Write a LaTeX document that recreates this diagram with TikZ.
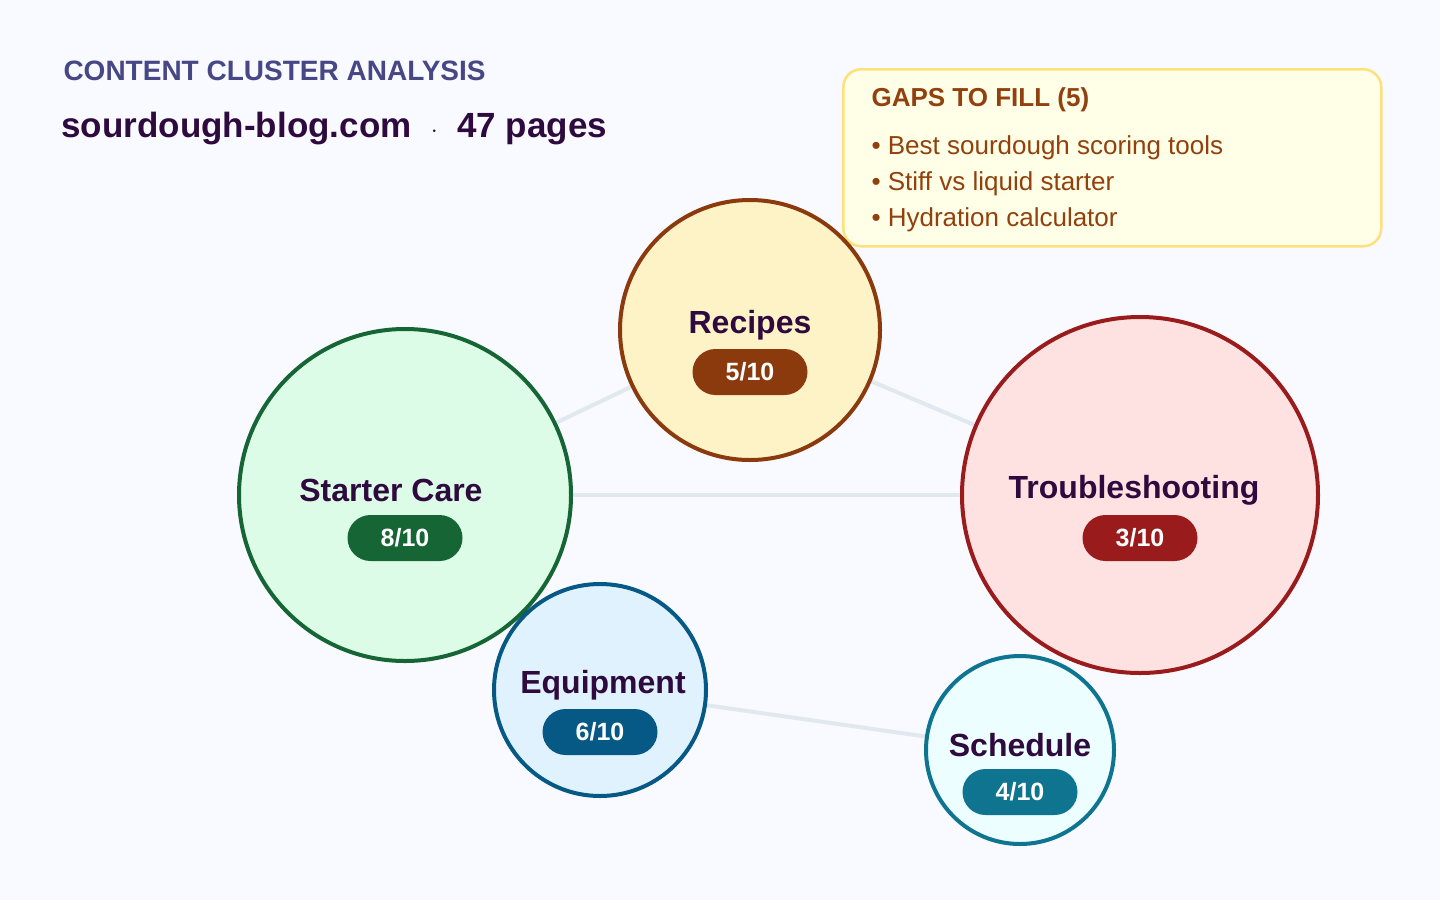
\documentclass[tikz,border=0pt]{standalone}
\usepackage{fontspec}
\setmainfont{Liberation Sans}
\begin{document}
\begin{tikzpicture}[x=1pt,y=-1pt,
  bub/.style={circle,line width=4pt,inner sep=0pt},
  lbl/.style={font=\fontsize{32}{36}\selectfont\bfseries,text=dkp},
  pill/.style={rounded corners=23pt,minimum width=115pt,minimum height=46pt,inner sep=0pt,text=white,font=\fontsize{25}{28}\selectfont\bfseries},
  edge/.style={draw=edgec,line width=4pt},
  gap/.style={anchor=west,text=gapt,font=\fontsize{26}{30}\selectfont}]
\definecolor{bg}{HTML}{F8FAFF}
\definecolor{dkp}{HTML}{2E0A3E}
\definecolor{edgec}{HTML}{E2E8F0}
\definecolor{gapt}{HTML}{92400E}
\definecolor{rS}{HTML}{8B3A0E}\definecolor{rF}{HTML}{FEF3C7}
\definecolor{gS}{HTML}{166534}\definecolor{gF}{HTML}{DCFCE7}
\definecolor{tS}{HTML}{991B1B}\definecolor{tF}{HTML}{FEE2E2}
\definecolor{eS}{HTML}{075985}\definecolor{eF}{HTML}{E0F2FE}
\definecolor{sS}{HTML}{0E7490}\definecolor{sF}{HTML}{ECFEFF}
\fill[bg] (0,0) rectangle (1440,900);
\useasboundingbox (0,0) rectangle (1440,900);
\node[anchor=west,text=gray!70!blue!80!black,font=\fontsize{28}{32}\selectfont\bfseries] (t1) at (60,71) {CONTENT CLUSTER ANALYSIS};
\node[anchor=west,text=dkp,font=\fontsize{35}{40}\selectfont\bfseries] (t2) at (58,129) {sourdough-blog.com \ $\cdot$ \ 47 pages};
\node[draw=yellow!60!orange!50,line width=2.5pt,fill=yellow!10,rounded corners=18pt,minimum width=538pt,minimum height=177pt,anchor=north west] (gbox) at (842,68) {};
\node[anchor=west,text=gapt,font=\fontsize{26}{30}\selectfont\bfseries] (gt) at (868,100) {GAPS TO FILL (5)};
\node[gap] (g1) at (868,148) {• Best sourdough scoring tools};
\node[gap] (g2) at (868,184) {• Stiff vs liquid starter};
\node[gap] (g3) at (868,220) {• Hydration calculator};
\coordinate (cR) at (750,330);
\coordinate (cS) at (405,495);
\coordinate (cT) at (1140,495);
\coordinate (cE) at (600,690);
\coordinate (cH) at (1020,750);
\draw[edge] (cS) -- (cR);
\draw[edge] (cR) -- (cT);
\draw[edge] (cS) -- (cT);
\draw[edge] (cE) -- (cH);
\node[bub,draw=rS,fill=rF,minimum size=260pt] (R) at (cR) {};
\node[bub,draw=gS,fill=gF,minimum size=332pt] (S) at (cS) {};
\node[bub,draw=tS,fill=tF,minimum size=356pt] (T) at (cT) {};
\node[bub,draw=eS,fill=eF,minimum size=212pt] (E) at (cE) {};
\node[bub,draw=sS,fill=sF,minimum size=188pt] (H) at (cH) {};
\node[lbl] (Rl) at (750,325) {Recipes};
\node[pill,fill=rS] (Rp) at (750,372) {5/10\hspace{30pt}};
\node[lbl] (Sl) at (391,490) {Starter Care};
\node[pill,fill=gS] (Sp) at (405,538) {8/10\hspace{30pt}};
\node[lbl] (Tl) at (1134,490) {Troubleshooting};
\node[pill,fill=tS] (Tp) at (1140,538) {3/10\hspace{30pt}};
\node[lbl] (El) at (603,685) {Equipment};
\node[pill,fill=eS] (Ep) at (600,732) {6/10\hspace{30pt}};
\node[lbl] (Hl) at (1020,745) {Schedule};
\node[pill,fill=sS] (Hp) at (1020,792) {4/10\hspace{30pt}};
\end{tikzpicture}
\end{document}
